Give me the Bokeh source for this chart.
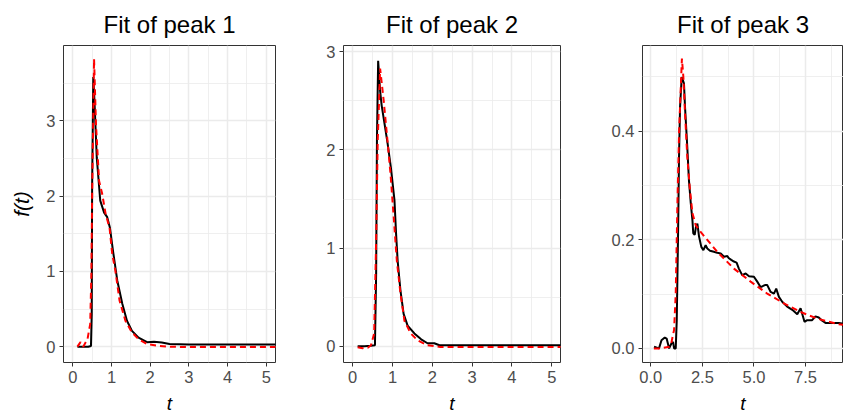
from bokeh.plotting import figure
from bokeh.layouts import row
from bokeh.models import FixedTicker, Range1d, PrintfTickFormatter
from bokeh.embed import file_html
from bokeh.resources import INLINE

# ---------------- data ----------------
titles = ["Fit of peak 1", "Fit of peak 2", "Fit of peak 3"]

# peak 1 - observed (black) and fitted (red dashed)
p1_obs_t = [0.12, 0.2, 0.3, 0.4, 0.47, 0.49, 0.5, 0.53, 0.56, 0.62, 0.71, 0.81, 0.89, 0.96,
            1.04, 1.15, 1.28, 1.4, 1.53, 1.7, 1.92, 2.1, 2.3, 2.5, 3.0, 4.0, 5.0, 5.5]
p1_obs_f = [0.0, 0.0, 0.0, 0.0, 0.01, 0.43, 2.11, 3.58, 3.27, 2.51, 1.94, 1.78, 1.72, 1.58,
            1.27, 0.88, 0.57, 0.345, 0.21, 0.12, 0.06, 0.065, 0.055, 0.035, 0.03, 0.03, 0.03, 0.028]
p1_fit_t = [0.12, 0.2, 0.27, 0.38, 0.45, 0.48, 0.5, 0.55, 0.6, 0.68, 0.76, 0.85, 0.95, 1.02,
            1.1, 1.21, 1.36, 1.53, 1.7, 1.92, 2.2, 2.5, 3.0, 4.0, 5.0, 5.5]
p1_fit_f = [0.0, 0.06, 0.0, 0.1, 0.3, 0.96, 2.0, 3.82, 2.95, 2.2, 2.03, 1.76, 1.58, 1.23,
            1.01, 0.61, 0.345, 0.19, 0.1, 0.036, 0.01, 0.0, -0.005, -0.005, -0.005, -0.005]

# peak 2
p2_obs_t = [0.125, 0.3, 0.45, 0.56, 0.59, 0.61, 0.64, 0.69, 0.73, 0.8, 0.88, 0.96, 1.05, 1.09,
            1.13, 1.2, 1.28, 1.38, 1.55, 1.72, 1.88, 2.05, 2.18, 2.5, 3.0, 4.0, 5.0, 5.5]
p2_obs_f = [0.0, 0.0, 0.005, 0.01, 0.74, 2.1, 2.91, 2.6, 2.45, 2.27, 2.06, 1.82, 1.49, 1.15,
            0.87, 0.57, 0.33, 0.21, 0.13, 0.07, 0.03, 0.03, 0.01, 0.01, 0.01, 0.01, 0.01, 0.01]
p2_fit_t = [0.125, 0.25, 0.38, 0.46, 0.54, 0.59, 0.63, 0.69, 0.78, 0.86, 0.95, 1.03, 1.11,
            1.2, 1.3, 1.46, 1.63, 1.88, 2.2, 3.0, 4.0, 5.0, 5.5]
p2_fit_f = [-0.01, -0.02, -0.015, 0.01, 0.13, 1.08, 2.1, 2.83, 2.5, 2.16, 1.76, 1.32, 0.87,
            0.54, 0.26, 0.13, 0.06, 0.01, -0.007, -0.007, -0.007, -0.007, -0.007]

# peak 3
p3_obs_t = [0.16, 0.4, 0.52, 0.68, 0.77, 0.89, 1.0, 1.08, 1.13, 1.21, 1.26, 1.32, 1.37, 1.42,
            1.5, 1.56, 1.61, 1.66, 1.77, 1.85, 1.94, 2.02, 2.06, 2.13, 2.19, 2.26, 2.34, 2.45,
            2.55, 2.66, 2.74, 2.87, 3.06, 3.22, 3.39, 3.55, 3.71, 3.79, 3.9, 4.03, 4.16, 4.27,
            4.43, 4.6, 4.76, 5.0, 5.16, 5.32, 5.56, 5.64, 5.81, 5.97, 6.08, 6.21, 6.37, 6.61,
            6.86, 7.1, 7.26, 7.45, 7.58, 7.82, 7.98, 8.14, 8.31, 8.47, 8.71, 9.11, 9.27, 9.35]
p3_obs_f = [0.003, 0.0, 0.015, 0.02, 0.018, 0.0, 0.009, 0.012, 0.0, 0.0, 0.052, 0.2, 0.353, 0.445,
            0.5, 0.494, 0.488, 0.445, 0.371, 0.31, 0.267, 0.236, 0.212, 0.209, 0.224, 0.23, 0.206, 0.187,
            0.181, 0.19, 0.184, 0.18, 0.178, 0.176, 0.175, 0.169, 0.17, 0.166, 0.163, 0.16, 0.158, 0.147,
            0.135, 0.138, 0.133, 0.132, 0.123, 0.113, 0.117, 0.117, 0.104, 0.101, 0.11, 0.095, 0.086, 0.077,
            0.071, 0.063, 0.074, 0.049, 0.052, 0.052, 0.059, 0.057, 0.051, 0.047, 0.047, 0.047, 0.046, 0.04]
p3_fit_t = [0.15, 0.5, 0.9, 1.0, 1.05, 1.13, 1.21, 1.29, 1.37, 1.45, 1.51, 1.58, 1.66, 1.77,
            1.9, 2.02, 2.18, 2.34, 2.74, 3.22, 4.03, 4.84, 5.64, 6.45, 7.26, 8.06, 9.03, 9.4]
p3_fit_f = [0.0, 0.0, 0.003, 0.01, 0.02, 0.034, 0.101, 0.261, 0.396, 0.476, 0.534, 0.5, 0.433, 0.353,
            0.292, 0.249, 0.227, 0.218, 0.2, 0.178, 0.147, 0.123, 0.101, 0.083, 0.067, 0.055, 0.045, 0.043]

# axis ticks
p1_x_ticks = [0, 1, 2, 3, 4, 5]
p1_x_minor = [0.5, 1.5, 2.5, 3.5, 4.5]
p1_y_ticks = [0, 1, 2, 3]
p1_y_minor = [0.5, 1.5, 2.5, 3.5]
p2_x_ticks = [0, 1, 2, 3, 4, 5]
p2_x_minor = [0.5, 1.5, 2.5, 3.5, 4.5]
p2_y_ticks = [0, 1, 2, 3]
p2_y_minor = [0.5, 1.5, 2.5]
p3_x_ticks = [0, 2.5, 5, 7.5]
p3_x_minor = [1.25, 3.75, 6.25, 8.75]
p3_y_ticks = [0, 0.2, 0.4]
p3_y_minor = [0.1, 0.3, 0.5]

FONT = "Liberation Sans"


def make_panel(title, obs_t, obs_f, fit_t, fit_f, xr, yr, xt, xm, yt, ym,
               fw, lb, rb, fmt=None, ylabel=None):
    p = figure(frame_width=fw, frame_height=317,
               x_range=Range1d(*xr), y_range=Range1d(*yr),
               output_backend="svg", toolbar_location=None,
               min_border_left=lb, min_border_right=rb,
               min_border_top=45, min_border_bottom=51,
               title=title)
    p.background_fill_color = "white"
    p.border_fill_color = "white"
    p.outline_line_color = "#333333"
    p.outline_line_width = 1

    p.title.text_font = FONT
    p.title.text_font_size = "24px"
    p.title.text_font_style = "normal"
    p.title.text_color = "black"
    p.title.align = "center"
    p.title.standoff = 15

    p.xaxis.ticker = FixedTicker(ticks=xt, minor_ticks=xm)
    p.yaxis.ticker = FixedTicker(ticks=yt, minor_ticks=ym)
    if fmt:
        p.xaxis.formatter = PrintfTickFormatter(format=fmt)
        p.yaxis.formatter = PrintfTickFormatter(format=fmt)

    for ax in (p.xaxis[0], p.yaxis[0]):
        ax.axis_line_color = None
        ax.major_tick_line_color = "#333333"
        ax.major_tick_out = 4
        ax.major_tick_in = 0
        ax.minor_tick_line_color = None
        ax.major_label_text_font = FONT
        ax.major_label_text_font_size = "16.5px"
        ax.major_label_text_color = "#4D4D4D"
        ax.major_label_standoff = 4
        ax.axis_label_text_font = FONT
        ax.axis_label_text_font_size = "19px"
        ax.axis_label_text_font_style = "italic"
        ax.axis_label_text_color = "black"

    p.xaxis.axis_label = "t"
    p.xaxis.axis_label_standoff = 7
    if ylabel:
        p.yaxis.axis_label = ylabel
        p.yaxis.axis_label_text_font_size = "21px"
        p.yaxis.axis_label_standoff = 10

    for g in (p.xgrid[0], p.ygrid[0]):
        g.grid_line_color = "#EBEBEB"
        g.grid_line_width = 1.5
        g.minor_grid_line_color = "#EBEBEB"
        g.minor_grid_line_width = 0.8

    p.line(obs_t, obs_f, line_color="black", line_width=2)
    p.line(fit_t, fit_f, line_color="#FF0000", line_width=2, line_dash="6 4")
    return p


p1 = make_panel(titles[0], p1_obs_t, p1_obs_f, p1_fit_t, p1_fit_f,
                (-0.24, 5.24), (-0.21, 4.0), p1_x_ticks, p1_x_minor, p1_y_ticks, p1_y_minor,
                212, 63, 5, ylabel="f(t)")
p2 = make_panel(titles[1], p2_obs_t, p2_obs_f, p2_fit_t, p2_fit_f,
                (-0.23, 5.22), (-0.166, 3.065), p2_x_ticks, p2_x_minor, p2_y_ticks, p2_y_minor,
                217, 63, 5)
p3 = make_panel(titles[2], p3_obs_t, p3_obs_f, p3_fit_t, p3_fit_f,
                (-0.40, 9.34), (-0.026, 0.558), p3_x_ticks, p3_x_minor, p3_y_ticks, p3_y_minor,
                201, 77, 0, fmt="%.1f")

layout = row(p1, p2, p3)
open("out.html", "w").write(file_html(layout, INLINE))
